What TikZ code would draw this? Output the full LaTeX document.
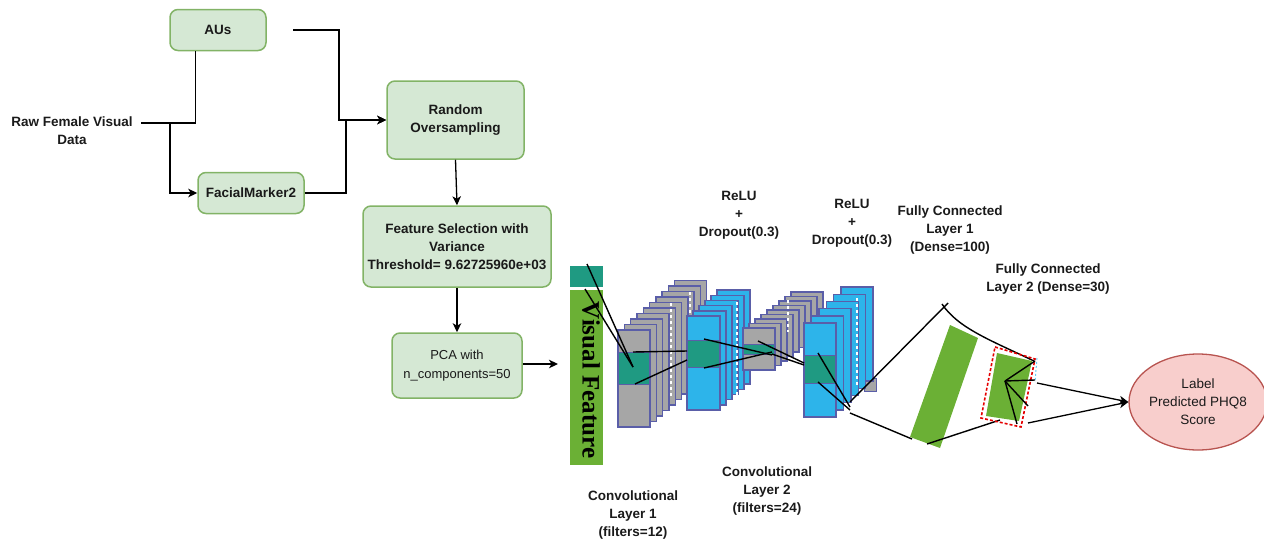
\documentclass[tikz,border=0pt]{standalone}
\usepackage{fontspec}
\setmainfont{Liberation Sans}
\setsansfont{Liberation Sans}
\newfontfamily\vfserif{Liberation Serif}
\usetikzlibrary{arrows.meta,calc,shapes.geometric}

\definecolor{boxfill}{HTML}{D5E8D4}
\definecolor{boxline}{HTML}{82B366}
\definecolor{vfgreen}{HTML}{6BB035}
\definecolor{vfteal}{HTML}{1F9A82}
\definecolor{mapgray}{HTML}{A6A6A6}
\definecolor{mapblue}{HTML}{2DB4EA}
\definecolor{mapedge}{HTML}{5A5EA8}
\definecolor{outfill}{HTML}{F8CECC}
\definecolor{outline}{HTML}{B85450}
\definecolor{txt}{HTML}{1A1A1A}

\tikzset{
  box/.style={draw=boxline, fill=boxfill, line width=1.5pt, rounded corners=8pt,
    align=center, inner sep=0pt, text=txt,
    font=\fontsize{13.5}{18}\selectfont\bfseries},
  label/.style={align=center, inner sep=0pt, text=txt,
    font=\fontsize{13.5}{18}\selectfont\bfseries},
  conn/.style={draw=black, line width=1.3pt},
  arrow/.style={conn, -{Stealth[length=9pt,width=8.5pt,inset=2.5pt]}},
  netline/.style={draw=black, line width=1.4pt},
  mapdots/.style={draw=white, line width=2.2pt, dash pattern=on 3pt off 3pt},
}

% a stack of feature maps: front top-left (#1,#2), size #3 x #4,
% #5 maps behind the front one, shifted by (#6,-#7) each, filled with #8
\newcommand{\mapstack}[8]{%
  \foreach \j in {0,...,#5}{%
    \pgfmathsetmacro\kk{#5-\j}%
    \draw[mapedge, line width=1.4pt, fill=#8]
      ({#1+\kk*#6},{#2-\kk*#7}) rectangle ++(#3,#4);
  }%
}

\begin{document}
\begin{tikzpicture}[x=1pt,y=-1pt]
\useasboundingbox (0,0) rectangle (1264,541);

% ---------------- preprocessing flow ----------------
\node[label] (raw) at (72,130.5) {Raw Female Visual\\Data};
\node[box, minimum width=96pt, minimum height=41pt] (aus) at (218,30) {AUs};
\node[box, minimum width=106pt, minimum height=41pt] (fm) at (251,193) {FacialMarker2};
\node[box, minimum width=137pt, minimum height=78pt] (ro) at (455.5,120) {Random\\Oversampling};
\node[box, minimum width=188pt, minimum height=81pt] (fs) at (457,246.5)
  {Feature Selection with\\Variance\\Threshold= 9.62725960e+03};
\node[box, minimum width=130pt, minimum height=65pt,
  font=\fontsize{13}{19}\selectfont] (pca) at (457,365.5) {PCA with\\n\_components=50};

\coordinate (rawout) at (141,123);
\coordinate (split) at (170,123);
\coordinate (ausout) at (293,30);
\coordinate (vfin) at (558,364);

\draw[conn] (rawout) -| ($(aus.south west)+(26,0)$);
\draw[arrow] (split) |- (fm.west);
\draw[arrow] (ausout) -| (339,120) -- (ro.west);
\draw[arrow] (fm.east) -| (346,120) -- (ro.west);
\draw[arrow] (ro.south) -- (fs.north);
\draw[arrow] (fs.south) -- (pca.north);
\draw[arrow] (pca.east |- vfin) -- (vfin);

% ---------------- visual feature column ----------------
\fill[vfteal] (570,266) rectangle (603,287);
\fill[vfgreen] (570,290) rectangle (603,465);
\node[rotate=-90, inner sep=0pt, text=black,
  font=\vfserif\bfseries\fontsize{25}{25}\selectfont] (vftext) at (591,380) {Visual Feature};

% ---------------- convolutional layer 1 ----------------
\mapstack{618}{330}{32}{97}{9}{6.3}{5.5}{mapgray}
\draw[mapdots] (671,303) -- (671,398);
\draw[mapdots] (690,292) -- (690,330);
\draw[mapedge, line width=0.8pt, fill=vfteal] (618,352) rectangle (650,384);
\draw[mapedge, line width=1.4pt] (618,330) rectangle ++(32,97);

\mapstack{687}{316}{33}{94}{5}{6}{5.2}{mapblue}
\draw[mapdots] (737,302) -- (737,398);
\draw[mapedge, line width=0.8pt, fill=vfteal] (687,340) rectangle (720,367);
\draw[mapedge, line width=1.4pt] (687,316) rectangle ++(33,94);

% ---------------- convolutional layer 2 ----------------
\mapstack{743}{328}{32}{42}{8}{6}{4.5}{mapgray}
\draw[mapdots] (788,300) -- (788,332);
\draw[mapedge, line width=0.8pt, fill=mapgray] (864,378) rectangle (876,391);
\draw[mapedge, line width=0.8pt, fill=vfteal] (743,344) rectangle (775,354);
\draw[mapedge, line width=1.4pt] (743,328) rectangle ++(32,42);

\mapstack{804}{323}{32}{94}{5}{7.4}{7.2}{mapblue}
\draw[mapdots] (857,298) -- (857,386);
\draw[mapedge, line width=0.8pt, fill=vfteal] (804,355) rectangle (836,383);
\draw[mapedge, line width=1.4pt] (804,323) rectangle ++(32,94);

% ---------------- receptive-field lines ----------------
\draw[netline] (587,264) -- (633,367);
\draw[netline] (585,289) -- (633,367);
\draw[netline] (633,352) -- (687,351);
\draw[netline] (635,384) -- (687,360);
\draw[netline] (704,339) -- (772,355);
\draw[netline] (704,368) -- (772,352);
\draw[netline] (758,341) -- (804,363);
\draw[netline] (772,354) -- (804,365);
\draw[netline] (818,353) -- (850,407);
\draw[netline] (818,382) -- (850,410);

% ---------------- fully connected layers ----------------
\fill[vfgreen] (950,325) -- (978,338) -- (940,448) -- (910,437) -- cycle;
\draw[netline] (850,402) -- (948,303);
\draw[netline] (850,413) -- (912,439);
\draw[netline] (942,304) .. controls (958,328) and (990,340) .. (1034,361);
\draw[netline] (927,444) -- (1000,420);

\fill[vfgreen] (997,353) -- (1032,361) -- (1019,421) -- (986,416) -- cycle;
\draw[red!90!black, line width=1.6pt, dash pattern=on 3pt off 2pt]
  (995,347) -- (1035,359) -- (1021,427) -- (981,418) -- cycle;
\draw[cyan!60, line width=1pt, dash pattern=on 2pt off 2pt] (1037,358) -- (1035,382);
\coordinate (fan) at (1005,381);
\draw[netline] (fan) -- (1035,361);
\draw[netline] (fan) -- (1035,380);
\draw[netline] (fan) -- (1028,406);
\draw[netline] (fan) -- (1017,424);

% ---------------- output ----------------
\node[draw=outline, fill=outfill, line width=1.3pt, ellipse, minimum width=110pt,
  minimum height=96pt, inner sep=0pt, align=center, text=txt,
  font=\fontsize{13.5}{18}\selectfont] (out) at (1198,402) {Label\\Predicted PHQ8\\Score};
\coordinate (fc2a) at (1037,383);
\coordinate (fc2b) at (1028,423);
\draw[arrow] (fc2a) -- (out.west);
\draw[arrow] (fc2b) -- (out.west);

% ---------------- layer captions ----------------
\node[label] (relu1) at (739,215) {ReLU\\+\\Dropout(0.3)};
\node[label] (relu2) at (852,223) {ReLU\\+\\Dropout(0.3)};
\node[label] (fc1cap) at (950,230) {Fully Connected\\Layer 1\\(Dense=100)};
\node[label] (fc2cap) at (1048,279) {Fully Connected\\Layer 2 (Dense=30)};
\node[label] (conv1cap) at (633,515) {Convolutional\\Layer 1\\(filters=12)};
\node[label] (conv2cap) at (767,491) {Convolutional\\Layer 2\\(filters=24)};
\end{tikzpicture}
\end{document}
